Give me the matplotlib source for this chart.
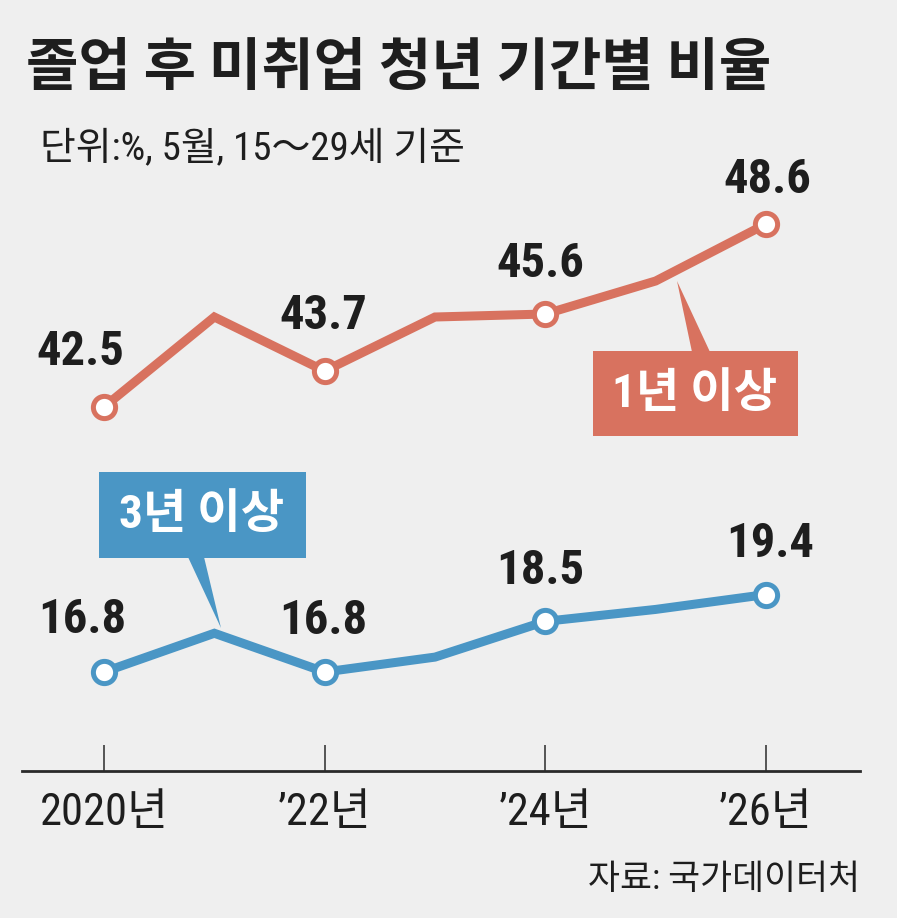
import matplotlib
matplotlib.use("Agg")
import matplotlib.pyplot as plt
from matplotlib.patches import Polygon, Rectangle

# ---- data ----
years = [2020, 2021, 2022, 2023, 2024, 2025, 2026]
over1 = [42.5, 45.5, 43.7, 45.5, 45.6, 46.7, 48.6]
over3 = [16.8, 18.1, 16.8, 17.3, 18.5, 18.9, 19.4]
labeled_years = [2020, 2022, 2024, 2026]
tick_labels = ["2020년", "’22년", "’24년", "’26년"]
title = "졸업 후 미취업 청년 기간별 비율"
subtitle = "단위:%, 5월, 15～29세 기준"
source = "자료: 국가데이터처"
name1 = "1년 이상"
name3 = "3년 이상"

RED = "#d8725f"
BLUE = "#4a96c5"
BG = "#efefef"
DARK = "#1e1e1e"
NUM = ["Roboto Condensed", "Noto Sans CJK KR", "DejaVu Sans"]
KR = ["Noto Sans CJK KR", "DejaVu Sans"]

W, H = 897, 918
fig = plt.figure(figsize=(W / 100, H / 100), dpi=100, facecolor=BG)


def rect(x0, y0, x1, y1):
    return [x0 / W, 1 - y1 / H, (x1 - x0) / W, (y1 - y0) / H]


# x: 2020 at 104px, 2026 at 766px
pxyr = (766 - 104) / 6.0
xl = (2020 - (104 - 22) / pxyr, 2026 + (860 - 766) / pxyr)

# red axes: px 200..440, 30 px per unit, 42.5 at 407
ax_r = fig.add_axes(rect(22, 200, 860, 440))
s = 30.0
ax_r.set_ylim(42.5 - (440 - 407) / s, 42.5 + (407 - 200) / s)
# blue axes: px 560..771, 29.8 px per unit, 16.8 at 672
ax_b = fig.add_axes(rect(22, 560, 860, 771))
s2 = 29.8
ax_b.set_ylim(16.8 - (771 - 672) / s2, 16.8 + (672 - 560) / s2)

for ax in (ax_r, ax_b):
    ax.set_xlim(*xl)
    ax.set_facecolor("none")
    for sp in ax.spines.values():
        sp.set_visible(False)
    ax.set_yticks([])

ax_r.set_xticks([])
ax_b.spines["bottom"].set_visible(True)
ax_b.spines["bottom"].set_linewidth(2.0)
ax_b.spines["bottom"].set_color("#2a2a2a")
ax_b.set_xticks(labeled_years)
ax_b.set_xticklabels(tick_labels, family=NUM, fontsize=32, color=DARK)
ax_b.tick_params(axis="x", direction="in", length=19, width=1.1, color="#2a2a2a", pad=15)

ax_r.plot(years, over1, color=RED, lw=6.5, solid_joinstyle="miter", zorder=3)
ax_r.plot(labeled_years, [over1[years.index(y)] for y in labeled_years], "o", ms=16,
          mfc="white", mec=RED, mew=3.6, zorder=4)
ax_b.plot(years, over3, color=BLUE, lw=6.5, solid_joinstyle="miter", zorder=3)
ax_b.plot(labeled_years, [over3[years.index(y)] for y in labeled_years], "o", ms=16,
          mfc="white", mec=BLUE, mew=3.6, zorder=4)

off_r = [(-24, 55), (-1, 55), (-5, 50), (1, 44)]
off_b = [(-22, 52), (-1, 51), (-5, 50), (4, 51)]
for y, (dx, dy) in zip(labeled_years, off_r):
    v = over1[years.index(y)]
    ax_r.annotate(f"{v:.1f}", (y, v), xytext=(dx * 0.72, dy * 0.72), textcoords="offset points",
                  ha="center", va="center", family=NUM, fontsize=35, color=DARK, weight="bold")
for y, (dx, dy) in zip(labeled_years, off_b):
    v = over3[years.index(y)]
    ax_b.annotate(f"{v:.1f}", (y, v), xytext=(dx * 0.72, dy * 0.72), textcoords="offset points",
                  ha="center", va="center", family=NUM, fontsize=35, color=DARK, weight="bold")

# overlay in pixel coords
ov = fig.add_axes([0, 0, 1, 1], zorder=5)
ov.set_xlim(0, W)
ov.set_ylim(H, 0)
ov.axis("off")
ov.patch.set_alpha(0)

ov.text(26, 68, title, family=KR, fontsize=41, weight="bold", color=DARK, ha="left", va="center")
ov.text(40, 148, subtitle, family=NUM, fontsize=28, color=DARK, ha="left", va="center")
ov.text(860, 880, source, family=NUM, fontsize=25, color=DARK, ha="right", va="center")

# callouts
ov.add_patch(Rectangle((593, 351), 205, 85, facecolor=RED, edgecolor="none"))
ov.add_patch(Polygon([(677, 281), (692, 352), (710, 352)], closed=True, facecolor=RED, edgecolor="none"))
ov.text(695, 394, name1, family=NUM, fontsize=34, weight="bold", color="white", ha="center", va="center")

ov.add_patch(Rectangle((99, 472), 207, 86, facecolor=BLUE, edgecolor="none"))
ov.add_patch(Polygon([(188, 557), (204, 557), (221, 628)], closed=True, facecolor=BLUE, edgecolor="none"))
ov.text(202, 515, name3, family=NUM, fontsize=34, weight="bold", color="white", ha="center", va="center")

fig.savefig("out.png", dpi=100, facecolor=BG)
